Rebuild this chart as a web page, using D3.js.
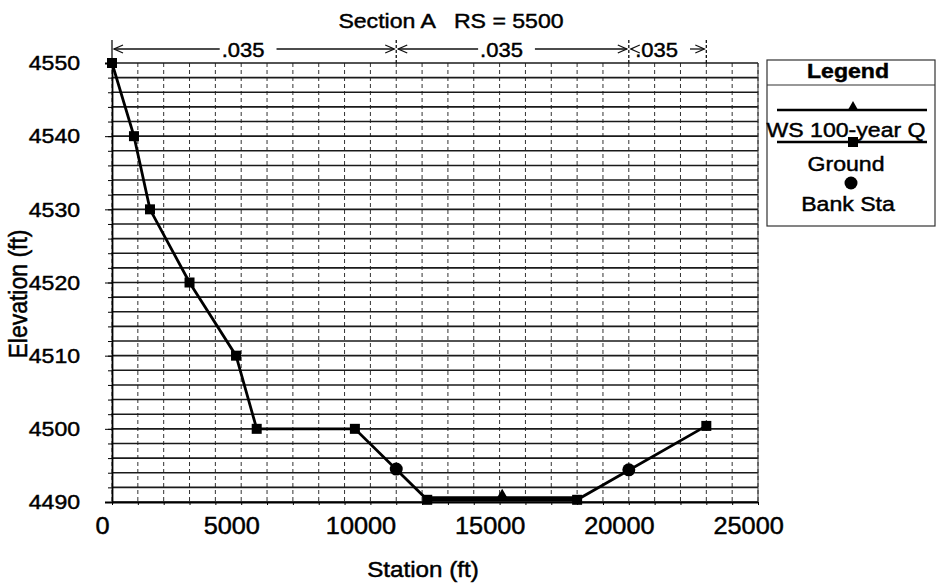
<!DOCTYPE html>
<html>
<head>
<meta charset="utf-8">
<script src="https://cdn.jsdelivr.net/npm/d3@7"></script>
<style>
	body { margin: 0; background: #fff; }
	svg { display: block; font-family: "Liberation Sans", Arial, sans-serif; }
	svg text { fill: #000; stroke: #000; stroke-width: 0.45px; }
</style>
</head>
<body>
<svg></svg>
<script>
// cross section data
const groundSta = [0, 850, 1470, 3000, 4800, 5600, 9400, 12200, 18000, 23000];
const groundElev = [4550, 4540, 4530, 4520, 4510, 4500, 4500, 4490.3, 4490.3, 4500.4];
const bankSta = [11000, 20000];
const bankElev = [4494.5, 4494.4];
const wsSta = [12150, 18050];
const wsElev = [4490.6, 4490.6];
const wsMarkerSta = [15100];
const nSta = [0, 11000, 20000, 23000];
const nVal = ['.035', '.035', '.035'];
const xTicks = [0, 5000, 10000, 15000, 20000, 25000];
const yTicks = [4490, 4500, 4510, 4520, 4530, 4540, 4550];
const legendLabels = ['WS 100-year Q', 'Ground', 'Bank Sta'];

const SX = 1.1; // the printout is a little wider than tall

function whenDocumentLoaded(action) {
	if (document.readyState === "loading") {
		document.addEventListener("DOMContentLoaded", action);
	} else {
		action();
	}
}

function txt(parent, px, py, s, size, anchor, rot) {
	return parent.append('text')
		.attr('transform', `translate(${px},${py}) scale(${SX},1)` + (rot ? ` rotate(${rot})` : ''))
		.attr('font-size', size)
		.attr('text-anchor', anchor || 'middle')
		.style('white-space', 'pre')
		.text(s);
}

function makeSection() {
	const svg = d3.select('svg').attr('width', 936).attr('height', 584);

	const x = d3.scaleLinear().domain([0, 25000]).range([112, 758]);
	const y = d3.scaleLinear().domain([4490, 4550]).range([502, 63]);

	// grid
	const grid = svg.append('g');
	grid.selectAll('line.v').data(x.ticks(25))
	  .enter().append('line')
		.attr('x1', d => x(d)).attr('x2', d => x(d))
		.attr('y1', y(4550)).attr('y2', y(4490))
		.attr('stroke', '#333').attr('stroke-width', 1)
		.attr('stroke-dasharray', '4,3');
	grid.selectAll('line.h').data(y.ticks(30))
	  .enter().append('line')
		.attr('x1', x(0)).attr('x2', x(25000))
		.attr('y1', d => y(d)).attr('y2', d => y(d))
		.attr('stroke', '#1a1a1a').attr('stroke-width', 1.6);
	grid.append('line')
		.attr('x1', x(25000)).attr('x2', x(25000))
		.attr('y1', y(4550)).attr('y2', y(4490))
		.attr('stroke', '#333');

	// y axis
	const yMinor = svg.append('g').attr('transform', `translate(${x(0)},0)`)
		.call(d3.axisLeft(y).ticks(30).tickSize(4).tickFormat(''));
	yMinor.select('.domain').remove();
	const yAxis = svg.append('g').attr('transform', `translate(${x(0)},0)`)
		.call(d3.axisLeft(y).tickValues(yTicks).tickSize(7).tickPadding(22).tickFormat(d3.format('d')));
	yAxis.select('.domain').attr('stroke', '#000').attr('stroke-width', 1.8);
	yAxis.selectAll('line').attr('stroke', '#000');
	yAxis.selectAll('text')
		.attr('font-size', 21).attr('font-family', null)
		.attr('transform', `scale(${SX},1)`);

	// x axis
	const xMinor = svg.append('g').attr('transform', `translate(0,${y(4490)})`)
		.call(d3.axisBottom(x).ticks(25).tickSize(3).tickFormat(''));
	xMinor.select('.domain').remove();
	const xAxis = svg.append('g').attr('transform', `translate(0,${y(4490)})`)
		.call(d3.axisBottom(x).tickValues(xTicks).tickSize(0).tickPadding(16).tickFormat(d3.format('d')));
	xAxis.select('.domain').attr('stroke', '#000').attr('stroke-width', 1.8);
	xAxis.selectAll('text')
		.attr('font-size', 23).attr('font-family', null)
		.attr('x', -9)
		.attr('transform', `scale(${SX},1)`);

	// titles
	txt(svg, 451, 28, 'Section A   RS = 5500', 21);
	txt(svg, 423, 577, 'Station (ft)', 22);
	txt(svg, 27, 294, 'Elevation (ft)', 23, 'middle', -90);

	// roughness bands across the top
	const top = svg.append('g').attr('stroke', '#111').attr('fill', 'none').attr('stroke-width', 1.3);
	const ay = 49;
	nSta.forEach(s => {
		top.append('line')
			.attr('x1', x(s)).attr('x2', x(s))
			.attr('y1', 40).attr('y2', y(4550))
			.attr('stroke-dasharray', s === 0 ? null : '3,2');
	});
	nVal.forEach((v, i) => {
		const x0 = x(nSta[i]), x1 = x(nSta[i + 1]);
		const t = txt(svg, (x0 + x1) / 2 - 11, 57, v, 20);
		const w = t.node().getComputedTextLength() * SX;
		const ts = (x0 + x1) / 2 - 11 - w / 2, te = ts + w;
		if (ts - 2 > x0 + 2) top.append('line').attr('x1', x0 + 2).attr('x2', ts - 2).attr('y1', ay).attr('y2', ay);
		if (te + 12 < x1 - 2) top.append('line').attr('x1', te + 12).attr('x2', x1 - 2).attr('y1', ay).attr('y2', ay);
		top.append('path').attr('d', `M${x0 + 11},${ay - 4}L${x0 + 2},${ay}L${x0 + 11},${ay + 4}`);
		top.append('path').attr('d', `M${x1 - 11},${ay - 4}L${x1 - 2},${ay}L${x1 - 11},${ay + 4}`);
	});

	// water surface
	const line = d3.line().x(d => x(d[0])).y(d => y(d[1]));
	svg.append('path')
		.attr('d', line(wsSta.map((s, i) => [s, wsElev[i]])))
		.attr('fill', 'none').attr('stroke', '#000').attr('stroke-width', 2.8);
	svg.selectAll('path.ws').data(wsMarkerSta)
	  .enter().append('path')
		.attr('transform', d => `translate(${x(d)},${y(wsElev[0]) - 3})`)
		.attr('d', d3.symbol(d3.symbolTriangle, 45));

	// ground
	svg.append('path')
		.attr('d', line(groundSta.map((s, i) => [s, groundElev[i]])))
		.attr('fill', 'none').attr('stroke', '#000').attr('stroke-width', 2.8);
	svg.selectAll('rect.gr').data(groundSta)
	  .enter().append('rect')
		.attr('x', d => x(d) - 5).attr('y', (d, i) => y(groundElev[i]) - 5)
		.attr('width', 10).attr('height', 10).attr('fill', '#000');

	// bank stations
	svg.selectAll('circle.bank').data(bankSta)
	  .enter().append('circle')
		.attr('cx', d => x(d)).attr('cy', (d, i) => y(bankElev[i]))
		.attr('r', 6.5).attr('fill', '#000');

	// legend
	const lg = svg.append('g');
	lg.append('rect').attr('x', 767).attr('y', 60).attr('width', 168).attr('height', 166)
		.attr('fill', '#fff').attr('stroke', '#333').attr('stroke-width', 1.2);
	lg.append('line').attr('x1', 767).attr('x2', 935).attr('y1', 85).attr('y2', 85)
		.attr('stroke', '#333').attr('stroke-width', 1.2);
	txt(lg, 848, 78, 'Legend', 21).attr('font-weight', 'bold');
	lg.append('line').attr('x1', 777).attr('x2', 927).attr('y1', 110).attr('y2', 110)
		.attr('stroke', '#000').attr('stroke-width', 2.4);
	lg.append('path').attr('transform', 'translate(853,107)').attr('d', d3.symbol(d3.symbolTriangle, 45));
	txt(lg, 846, 137, legendLabels[0], 21);
	lg.append('line').attr('x1', 777).attr('x2', 927).attr('y1', 142).attr('y2', 142)
		.attr('stroke', '#000').attr('stroke-width', 2.4);
	lg.append('rect').attr('x', 848).attr('y', 137).attr('width', 10).attr('height', 10);
	txt(lg, 846, 171, legendLabels[1], 21);
	lg.append('circle').attr('cx', 851).attr('cy', 183).attr('r', 6.5);
	txt(lg, 848, 211, legendLabels[2], 21);
}

whenDocumentLoaded(() => {
	makeSection();
});
</script>
</body>
</html>
